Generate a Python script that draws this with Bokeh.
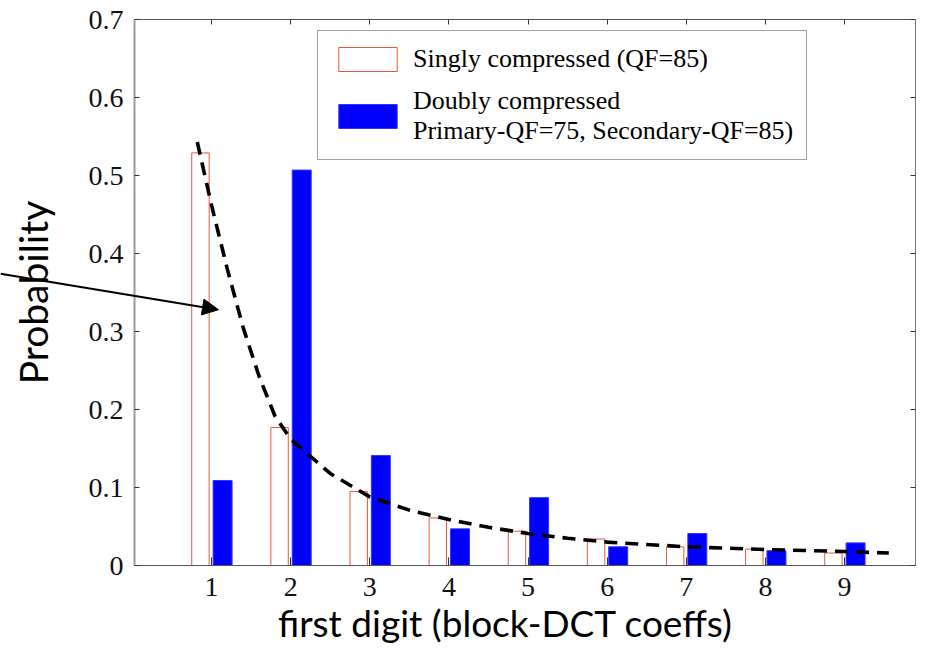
from bokeh.plotting import figure
from bokeh.models import (Range1d, FixedTicker, Legend, LegendItem, Arrow, NormalHead,
                          ColumnDataSource, LinearAxis, Label)
from bokeh.transform import dodge
from bokeh.embed import file_html
from bokeh.resources import INLINE

# ---- data ----
digits = [1, 2, 3, 4, 5, 6, 7, 8, 9]
single = [0.529, 0.177, 0.095, 0.061, 0.044, 0.034, 0.024, 0.021, 0.016]
double = [0.109, 0.507, 0.141, 0.047, 0.087, 0.024, 0.041, 0.019, 0.029]
curve_x = [0.82, 1.0, 1.2, 1.4, 1.6, 1.8, 2.0, 2.5, 3.0, 3.5, 4.0, 4.5, 5.0, 5.5, 6.0, 7.0, 8.0, 9.0, 9.56]
curve_y = [0.543, 0.462, 0.38, 0.305, 0.243, 0.192, 0.162, 0.118, 0.088, 0.071, 0.059, 0.049, 0.041, 0.035, 0.030, 0.024, 0.0205, 0.018, 0.016]
y_ticks = [0, 0.1, 0.2, 0.3, 0.4, 0.5, 0.6, 0.7]
y_tick_labels = ["0", "0.1", "0.2", "0.3", "0.4", "0.5", "0.6", "0.7"]
label_single = "Singly compressed (QF=85)"
label_double = "Doubly compressed\nPrimary-QF=75, Secondary-QF=85)"
x_title = "first digit (block-DCT coeffs)"
y_title = "Probability"

# ---- layout (the frame fills the canvas; axes are pinned inside it) ----
x_view = (-1.667, 10.049)
y_view = (-0.1064, 0.7244)
x_box = (0.027, 9.897)   # left / right edges of the axes box
y_box = (0.0, 0.7)       # bottom / top edges of the axes box
x_title_pos = (4.716, -0.0725)
arrow_start = (-1.667, 0.374)
arrow_end = (1.088, 0.328)

src = ColumnDataSource(dict(d=digits, s=single, b=double))
csrc = ColumnDataSource(dict(x=curve_x, y=curve_y))

p = figure(width=927, height=648, x_range=Range1d(*x_view), y_range=Range1d(*y_view),
           output_backend="svg", toolbar_location=None, x_axis_location=None, y_axis_location=None,
           min_border=0, min_border_left=0, min_border_right=0, min_border_top=0, min_border_bottom=0)
p.xgrid.visible = False
p.ygrid.visible = False
p.outline_line_color = None

r1 = p.vbar(x=dodge("d", -0.14, range=p.x_range), top="s", width=0.22, bottom=0, source=src,
            fill_color="white", line_color="#e8583a", line_width=1)
r2 = p.vbar(x=dodge("d", 0.14, range=p.x_range), top="b", width=0.24, bottom=0, source=src,
            fill_color="#0000ff", line_color="#3333ff", line_width=1)
p.line(x="x", y="y", source=csrc, line_color="black", line_width=3.6, line_dash="13 8")

serif = "Liberation Serif"


def plain_ticks(ax):
    ax.major_tick_out = 0
    ax.minor_tick_in = 0
    ax.minor_tick_out = 0
    ax.major_tick_line_color = "#333333"


# bottom x axis
xa = LinearAxis(ticker=FixedTicker(ticks=digits), bounds=x_box, fixed_location=y_box[0])
plain_ticks(xa)
xa.major_tick_in = 8
xa.axis_line_color = "#555555"
xa.major_label_text_font = serif
xa.major_label_text_font_size = "28px"
xa.major_label_text_color = "#111111"
xa.major_label_standoff = 12
p.add_layout(xa, "below")

# top box line with ticks
ta = LinearAxis(ticker=FixedTicker(ticks=digits), bounds=x_box, fixed_location=y_box[1])
plain_ticks(ta)
ta.major_label_overrides = {d: "" for d in digits}
ta.major_label_text_font_size = "1px"
ta.major_tick_in = 5
ta.axis_line_color = "#555555"
p.add_layout(ta, "above")

# right box line with ticks
ra = LinearAxis(ticker=FixedTicker(ticks=y_ticks), bounds=y_box, fixed_location=x_box[1])
plain_ticks(ra)
ra.major_label_overrides = {t: "" for t in y_ticks}
ra.major_label_text_font_size = "1px"
ra.major_tick_in = 5
ra.axis_line_color = "#777777"
p.add_layout(ra, "right")

# left y axis
ya = LinearAxis(ticker=FixedTicker(ticks=y_ticks), bounds=y_box, fixed_location=x_box[0])
plain_ticks(ya)
ya.major_label_overrides = {t: l for t, l in zip(y_ticks, y_tick_labels)}
ya.major_tick_in = 5
ya.axis_line_color = "#999999"
ya.axis_line_width = 2
ya.major_label_text_font = serif
ya.major_label_text_font_size = "28px"
ya.major_label_text_color = "#111111"
ya.major_label_standoff = 11
ya.axis_label = y_title
ya.axis_label_text_font = "Lato"
ya.axis_label_text_font_style = "normal"
ya.axis_label_text_font_size = "39px"
ya.axis_label_text_color = "black"
ya.axis_label_standoff = 30
p.add_layout(ya, "left")

p.add_layout(Label(x=x_title_pos[0], y=x_title_pos[1], text=x_title, text_align="center",
                   text_baseline="middle", text_font="Lato", text_font_size="37px",
                   text_color="black"))

legend = Legend(items=[LegendItem(label=label_single, renderers=[r1]),
                       LegendItem(label=label_double, renderers=[r2])],
                location=(317, 488))
legend.glyph_width = 73
legend.glyph_height = 30
legend.label_standoff = 9
legend.padding = 13
legend.spacing = 12
legend.margin = 0
legend.border_line_color = "#444444"
legend.border_line_width = 1
legend.label_text_font = serif
legend.label_text_font_size = "26px"
legend.label_text_line_height = 1.55
legend.label_text_color = "black"
legend.background_fill_alpha = 1
p.add_layout(legend)

p.add_layout(Arrow(end=NormalHead(size=16, fill_color="black", line_color="black"),
                   x_start=arrow_start[0], y_start=arrow_start[1],
                   x_end=arrow_end[0], y_end=arrow_end[1],
                   line_color="black", line_width=2))

open("out.html", "w").write(file_html(p, INLINE))
